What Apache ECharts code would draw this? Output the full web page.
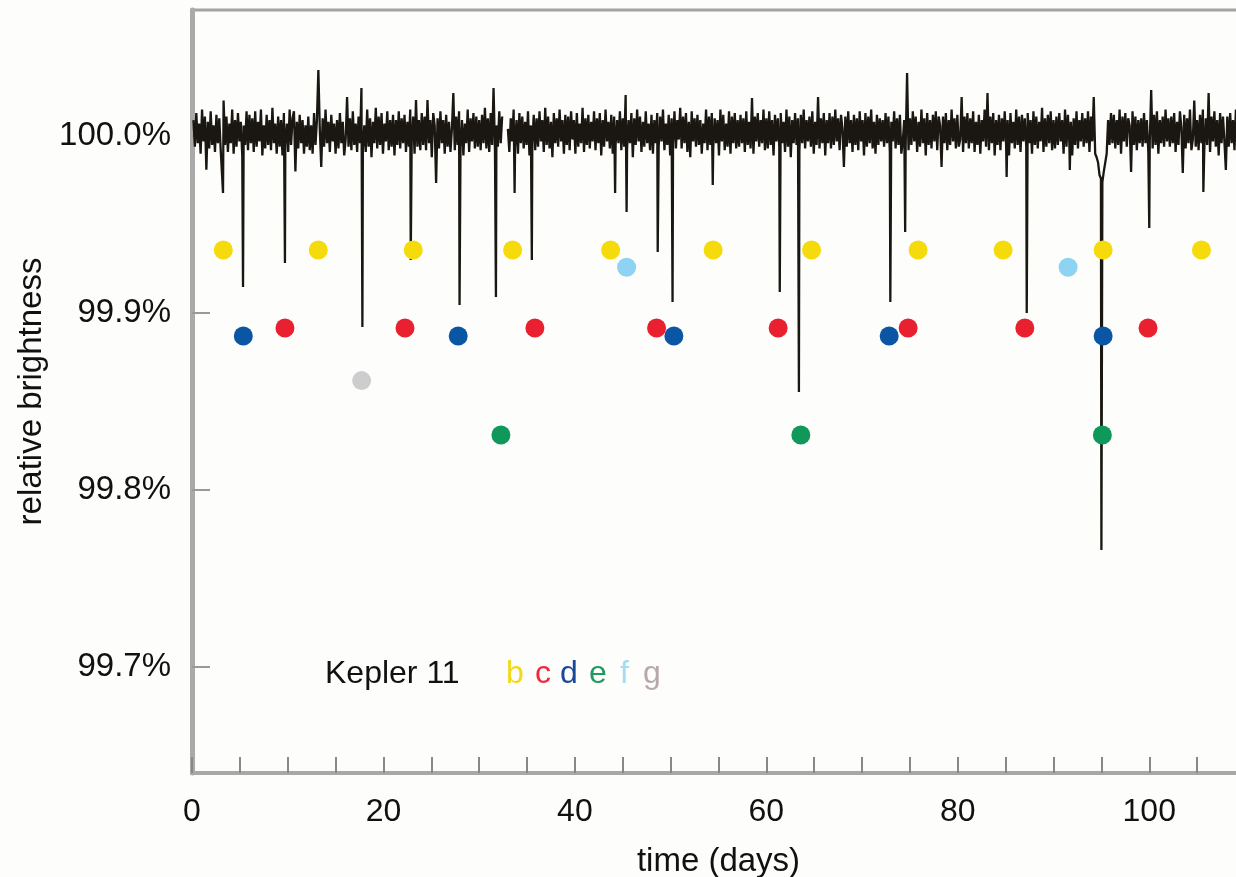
<!DOCTYPE html>
<html>
<head>
<meta charset="utf-8">
<script src="https://cdn.jsdelivr.net/npm/echarts@6/dist/echarts.min.js"></script>
<style>
html,body{margin:0;padding:0;background:#fdfdfb;}
#chart{width:1236px;height:877px;}
</style>
</head>
<body>
<div id="chart"></div>
<script>
// ---- data ----
// light curve sampled every 0.15 day starting at day 0.15; values are ppm offsets from 100 %
const sampleStart = 0.15;
const sampleStep = 0.15;
const noisePpm = [
  90,-60,130,-40,70,-100,150,-30,110,-190, 80,-70,140,-50,60,-90,120,-40,100,-80,
  -70,200,-50,110,-90,70,-40,150,-100,90, -60,130,-30,80,-110,60,-50,140,-80,120,
  -40,100,-90,140,-60,80,-30,150,-110,60, -70,120,-50,90,-80,160,-40,70,-100,110,
  -60,90,-110,130,-40,70,-90,150,-50,100, 140,-200,80,-70,120,-40,90,-100,60,-60,
  110,-80,60,-100,130,-50,90,373,40,-175, 100,-60,150,-40,80,-90,120,-30,70,-100,
  90,-70,130,-40,80,-110,-20,220,-60,100, -80,140,-50,70,-90,110,-40,271,-70,60,
  -90,150,-60,100,-120,80,-40,160,-70,110, -50,130,-100,70,-30,140,-80,90,-60,120,
  -110,90,-50,140,-70,100,-40,120,-90,80, -60,150,-30,110,-100,203,-60,90,-80,130,
  -50,110,-80,203,-40,90,-120,130,60,-266, 100,-70,140,-40,90,-100,120,-60,80,-90,
  40,243,-80,110,-50,140,-60,90,-110,70, -40,150,-90,100,-30,130,-70,110,-60,90,
  -80,120,-40,160,-70,100,-90,130,-50,271, -80,60,-60,140,-40,110,null,null,null,40,
  -90,100,-30,150,-60,90,-100,130,-40,110, -70,80,-50,140,-110,60,-40,120,-80,100,
  -60,140,-30,90,-90,160,-50,110,-70,80, -120,130,-40,100,-60,150,-30,90,-100,120,
  -50,110,-80,140,-20,90,-100,130,-60,70, -40,160,-90,100,-50,120,-70,80,-30,140,
  -80,100,-40,130,-110,90,-60,150,-30,80, -70,120,-100,110,-50,90,-40,140,-80,100,
  -60,232,-70,90,-40,130,-120,100,-50,150, -30,110,-90,80,-60,140,-40,70,-80,120,
  -100,90,-40,130,-60,110,-30,150,-80,70, -50,120,-110,100,-40,140,-70,90,-20,160,
  -70,110,-40,130,-90,80,-120,140,-30,100, -60,120,-50,90,-100,70,-40,150,-80,110,
  -50,130,-70,100,-40,90,-110,150,-30,120, -80,70,-60,140,-100,110,-40,130,-70,90,
  -60,120,-40,100,-90,140,-50,80,-70,215, -100,110,-30,130,-60,90,-40,150,-80,100,
  -70,140,-50,90,-110,120,-30,100,-60,130, -40,80,-90,150,-60,110,-120,90,-40,130,
  -50,100,-80,120,-40,150,-70,90,-30,110, -60,140,-100,80,-50,220,-70,100,-40,130,
  -110,90,-40,130,-70,110,-50,150,-30,100, -80,120,40,-175,110,-60,140,-40,90,-90,
  120,-50,100,-80,140,-30,90,-110,130,-60, 110,-40,150,-70,80,-100,120,-50,100,-30,
  90,-60,130,-40,110,-90,80,-30,140,-70, 100,-50,120,-100,-30,90,-60,356,-80,100,
  -50,140,-30,110,-90,80,-60,150,-40,100, -110,130,-50,90,-70,120,-30,140,-80,110,
  60,-175,110,-40,130,-80,90,-50,150,-30, 100,-70,120,-60,-20,220,-90,110,-40,130,
  -70,100,-40,140,-90,80,-50,120,-100,90, -30,150,-60,243,-80,110,-40,130,-110,90,
  -50,120,-80,100,-30,140,-60,90,-110,130, -40,80,-70,150,-50,110,-90,120,-30,100,
  -60,130,-40,90,-100,140,-50,110,-70,80, -30,160,-90,100,-60,120,-40,140,-80,90,
  -70,110,-50,130,-30,90,-100,150,-60,120, -40,80,-110,100,-50,140,-70,90,-30,130,
  -60,100,-40,140,-90,110,-30,220,-100,-120, -150,-220,-240,-260,-200,-150,-100,90,-50,130,
  -40,120,-70,90,-50,150,-100,110,-30,130, -60,100,60,-203,140,-50,110,-80,90,-40,
  100,-60,130,-40,90,-90,-30,260,-70,120, -50,140,-100,90,-40,110,-60,150,-30,100,
  -60,110,-40,130,-90,80,-50,140,50,-209, 120,-70,100,-40,150,-80,-20,200,-60,90,
  -80,120,-40,150,-70,100,-50,243,-90,110, -30,140,-60,90,-110,130,-40,110,-30,-192,
  110,-60,130,-40,90,-80,150,-50,100,-30, 120,-90,80,-40,140,-60,110,-70,90,-50
];
// transit dips: [day, ppm]
const transitDips = [
  [3.24, -322], [5.33, -853], [9.71, -718], [17.8, -1079], [22.85, -700],
  [27.95, -955], [31.75, -910], [33.7, -322], [35.5, -700], [44.2, -322],
  [45.4, -429], [48.65, -655], [50.2, -938], [54.4, -277], [61.4, -881],
  [63.4, -1446], [72.95, -938], [74.5, -542], [85.1, -232], [87.2, -1000],
  [91.7, -192], [95.0, -2339], [100.0, -520], [105.65, -316]
];
// transit markers (days) and their row levels (%)
const planetNames = ['b', 'c', 'd', 'e', 'f', 'g'];
const planetB = [3.27, 13.19, 23.11, 33.49, 43.73, 54.44, 64.72, 75.85, 84.73, 95.18, 105.45];
const planetC = [9.71, 22.25, 35.82, 48.53, 61.23, 74.81, 87.0, 99.87];
const planetD = [5.36, 27.81, 50.34, 72.83, 95.18];
const planetE = [32.27, 63.6, 95.1];
const planetF = [45.4, 91.52];
const planetG = [17.72];
const planetLevels = [99.9356, 99.8915, 99.887, 99.8311, 99.9258, 99.8618];
const planetColors = ['#f5da0c', '#e8202f', '#0b56a4', '#0f985a', '#8fd3f2', '#cdcdcd'];
const legendColors = ['#f3d81a', '#ee2a3c', '#1b4898', '#1f9a5c', '#a6dcf0', '#b7a9a9'];
// axes
const xMin = 0, xMax = 110;
const yMin = 99.6401, yMax = 100.0712;
const xTicks = [0,5,10,15,20,25,30,35,40,45,50,55,60,65,70,75,80,85,90,95,100,105,110];
const xLabels = [0, 20, 40, 60, 80, 100];
const yTicks = [99.7, 99.8, 99.9, 100.0];

// ---- build ----
const curve = noisePpm.map((v, i) => [Math.round((sampleStart + i * sampleStep) * 100) / 100, v]);
transitDips.forEach(d => curve.push(d));
curve.sort((a, b) => a[0] - b[0]);
const curveData = curve.map(p => [p[0], p[1] === null ? null : 100 + p[1] / 10000]);

const planetDays = [planetB, planetC, planetD, planetE, planetF, planetG];
const scatterSeries = planetDays.map((days, k) => ({
  name: planetNames[k],
  type: 'scatter',
  symbol: 'circle',
  symbolSize: 19,
  itemStyle: { color: planetColors[k], opacity: 1 },
  z: 5,
  data: days.map(d => [d, planetLevels[k]])
}));

const FONT = 'Liberation Sans, Arial, sans-serif';
const chart = echarts.init(document.getElementById('chart'), null, { renderer: 'canvas' });

const letterX = [506, 535, 560, 589, 620, 643];
const graphics = [{
  type: 'text', left: 325, top: 658,
  style: { text: 'Kepler 11', fill: '#111', font: '32px ' + FONT }
}].concat(planetNames.map((n, k) => ({
  type: 'text', left: letterX[k], top: 658,
  style: { text: n, fill: legendColors[k], font: '32px ' + FONT }
})));

chart.setOption({
  animation: false,
  backgroundColor: '#fdfdfb',
  grid: { left: 192, top: 10, width: 1053, height: 763, outerBoundsMode: 'none', containLabel: false,
          show: true, borderColor: '#a3a3a3', borderWidth: 3, backgroundColor: 'transparent' },
  xAxis: {
    type: 'value', min: xMin, max: xMax,
    name: 'time (days)', nameLocation: 'middle', nameGap: 72,
    nameTextStyle: { color: '#111', fontSize: 33, fontFamily: FONT },
    axisLine: { show: true, onZero: false, lineStyle: { color: '#a8a8a8', width: 4 } },
    axisTick: { show: true, inside: true, length: 16, customValues: xTicks, lineStyle: { color: '#888', width: 2 } },
    axisLabel: { customValues: xLabels, margin: 23, color: '#111', fontSize: 32, fontFamily: FONT, formatter: v => String(v) },
    splitLine: { show: false }
  },
  yAxis: {
    type: 'value', min: yMin, max: yMax,
    name: 'relative brightness', nameLocation: 'middle', nameGap: 143,
    nameTextStyle: { color: '#111', fontSize: 33, fontFamily: FONT },
    axisLine: { show: true, onZero: false, lineStyle: { color: '#aaaaaa', width: 5 } },
    axisTick: { show: true, inside: true, length: 18, customValues: yTicks, lineStyle: { color: '#999', width: 2 } },
    axisLabel: { customValues: yTicks, margin: 21, color: '#111', fontSize: 33, fontFamily: FONT, formatter: v => v.toFixed(1) + '%' },
    splitLine: { show: false }
  },
  graphic: graphics,
  series: [{
    name: 'Kepler-11 light curve',
    type: 'line',
    data: curveData,
    showSymbol: false,
    symbol: 'none',
    connectNulls: false,
    clip: true,
    lineStyle: { color: '#1a1712', width: 2.3 },
    z: 2
  }].concat(scatterSeries)
});
</script>
</body>
</html>
